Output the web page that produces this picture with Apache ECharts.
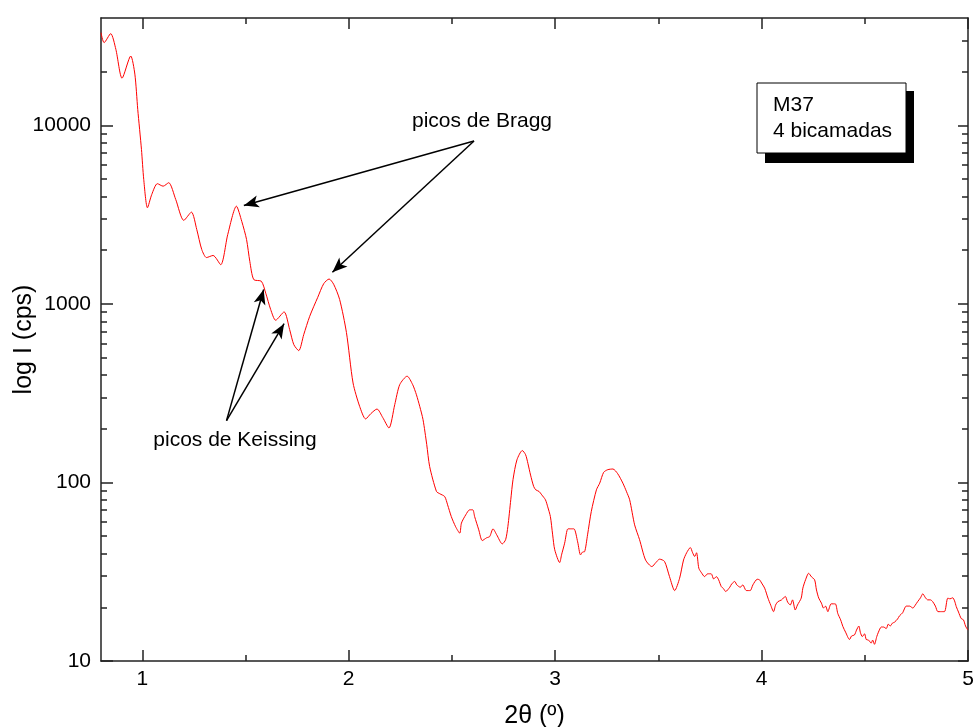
<!DOCTYPE html>
<html>
<head>
<meta charset="utf-8">
<script src="https://cdn.jsdelivr.net/npm/echarts@6/dist/echarts.min.js"></script>
<style>
html,body{margin:0;padding:0;background:#fff;}
#chart{width:977px;height:727px;}
</style>
</head>
<body>
<div id="chart"></div>
<script>
// 2θ (degrees)
var twoTheta = [
  0.800,0.815,0.847,0.872,0.902,0.944,0.964,0.978,0.996,1.007,
  1.025,1.046,1.073,1.101,1.128,1.162,1.201,1.238,1.264,1.288,
  1.311,1.343,1.380,1.414,1.456,1.482,1.505,1.521,1.540,1.577,
  1.598,1.622,1.646,1.687,1.714,1.734,1.758,1.782,1.811,1.850,
  1.879,1.905,1.927,1.956,1.989,2.021,2.053,2.082,2.107,2.137,
  2.165,2.195,2.223,2.247,2.283,2.310,2.328,2.344,2.360,2.378,
  2.392,2.425,2.441,2.465,2.479,2.497,2.518,2.538,2.546,2.567,
  2.586,2.601,2.610,2.630,2.647,2.668,2.683,2.699,2.717,2.744,
  2.760,2.771,2.785,2.796,2.815,2.841,2.857,2.868,2.881,2.896,
  2.906,2.922,2.935,2.953,2.964,2.977,2.988,2.998,3.022,3.031,
  3.046,3.062,3.075,3.091,3.109,3.123,3.133,3.143,3.157,3.175,
  3.200,3.216,3.235,3.255,3.280,3.303,3.328,3.346,3.361,3.385,
  3.409,3.438,3.469,3.487,3.506,3.530,3.554,3.579,3.603,3.622,
  3.637,3.655,3.666,3.676,3.685,3.696,3.709,3.724,3.739,3.756,
  3.768,3.781,3.792,3.805,3.816,3.826,3.846,3.855,3.870,3.880,
  3.897,3.909,3.926,3.945,3.958,3.979,3.990,4.003,4.015,4.031,
  4.044,4.058,4.068,4.079,4.097,4.115,4.126,4.139,4.150,4.163,
  4.174,4.192,4.200,4.213,4.228,4.242,4.257,4.266,4.277,4.290,
  4.300,4.310,4.321,4.337,4.357,4.369,4.383,4.394,4.407,4.426,
  4.436,4.450,4.460,4.471,4.479,4.488,4.499,4.507,4.518,4.531,
  4.538,4.547,4.558,4.566,4.580,4.591,4.604,4.614,4.623,4.634,
  4.644,4.659,4.668,4.683,4.701,4.717,4.733,4.745,4.756,4.770,
  4.781,4.794,4.805,4.818,4.829,4.842,4.854,4.867,4.886,4.902,
  4.913,4.926,4.935,4.943,4.954,4.967,4.978,4.988,4.999
];
// intensity (cps)
var intensity = [
  33100,29100,32700,26700,18400,24500,19400,12300,7350,4990,
  3460,4110,4720,4570,4780,3850,2940,3270,2610,2020,
  1820,1870,1660,2450,3530,2900,2300,1730,1370,1340,
  1150,931,811,903,718,592,548,673,853,1090,
  1300,1380,1290,1060,692,361,267,227,243,258,
  231,202,273,353,394,353,310,267,225,163,
  123,89.1,86.5,83.4,75.0,64.4,56.5,52.0,59.2,65.9,
  70.3,70.3,64.4,54.3,47.3,49.0,49.8,55.0,50.9,45.3,
  47.8,56.6,80.0,104,134,151,143,128,110,95.0,
  91.0,89.1,85.3,80.0,73.1,64.4,50.9,42.0,35.6,39.3,
  45.7,55.0,55.0,55.0,46.5,39.3,40.8,41.0,50.9,68.7,
  91.0,99.2,114,118,119,112,99.2,88.7,80.0,57.9,
  47.8,36.8,33.8,35.5,37.2,36.1,29.7,24.8,29.1,36.8,
  40.4,43.2,40.4,38.5,40.4,33.1,31.2,29.7,30.8,30.8,
  28.8,29.7,28.5,26.1,25.4,24.5,25.9,27.0,27.9,26.7,
  25.9,26.7,24.8,24.8,26.7,28.7,28.5,27.0,25.6,22.5,
  20.6,18.9,20.6,21.5,22.0,23.0,21.4,20.6,22.0,19.3,
  20.6,22.5,25.6,28.5,31.0,29.6,28.5,25.0,22.5,21.1,
  19.8,20.3,18.9,20.9,20.9,18.5,17.0,15.6,14.5,13.2,
  13.8,14.0,14.9,15.7,14.4,13.7,14.2,13.2,13.1,12.6,
  13.1,12.4,13.7,14.5,15.5,15.5,15.2,16.1,15.7,16.3,
  16.5,17.2,17.9,18.6,20.3,20.3,19.8,20.6,21.5,22.6,
  23.8,22.6,22.0,22.0,21.5,20.3,18.9,18.9,18.9,22.5,
  22.3,22.6,21.7,20.2,18.8,17.3,17.0,15.7,14.9
];

// axis ticks
var xMajorTicks = [1, 2, 3, 4, 5];
var xMinorTicks = [1.5, 2.5, 3.5, 4.5];
var yMajorTicks = [10, 100, 1000, 10000];
var yMinorTicksLeft = [20,30,40,50,60,70,80,90,200,300,400,500,600,700,800,900,2000,3000,4000,5000,6000,7000,8000,9000,20000];
var yMinorTicksRight = yMinorTicksLeft.concat([30000]);

// annotation arrows: [from 2θ, from I, to 2θ, to I]
var braggArrows = [[2.607, 8180, 1.492, 3565], [2.607, 8180, 1.921, 1507]];
var keissingArrows = [[1.408, 222, 1.588, 1205], [1.408, 222, 1.687, 776]];

var FONT = "'Liberation Sans', Arial, Helvetica, sans-serif";
var AX = '#222';

var data = [];
for (var i = 0; i < Math.min(twoTheta.length, intensity.length); i++) data.push([twoTheta[i], intensity[i]]);

function arrowData(list) {
  return list.map(function (a) { return [{ coord: [a[0], a[1]] }, { coord: [a[2], a[3]] }]; });
}

function xAxisDef(pos, ticks, len, showLine, showLabels) {
  var o = {
    type: 'value', position: pos, min: 0.8, max: 5,
    axisLine: { show: showLine, onZero: false, lineStyle: { color: AX, width: 1.5 } },
    axisTick: { show: true, inside: true, length: len, customValues: ticks, lineStyle: { color: AX, width: 1.5 } },
    axisLabel: { show: showLabels, customValues: ticks, margin: 8, color: '#000', fontSize: 21, fontFamily: FONT },
    splitLine: { show: false }
  };
  return o;
}
function yAxisDef(pos, ticks, len, showLine, showLabels) {
  return {
    type: 'log', logBase: 10, position: pos, min: 10, max: 40000,
    axisLine: { show: showLine, onZero: false, lineStyle: { color: AX, width: 1.5 } },
    axisTick: { show: true, inside: true, length: len, customValues: ticks, lineStyle: { color: AX, width: 1.5 } },
    axisLabel: { show: showLabels, customValues: ticks, margin: 10, color: '#000', fontSize: 21, fontFamily: FONT,
      formatter: function (v) { return String(Math.round(v)); } },
    splitLine: { show: false },
    minorTick: { show: false }
  };
}

var xa0 = xAxisDef('bottom', xMajorTicks, 11, true, true);
xa0.name = '2\u03B8 (\u00BA)';
xa0.nameLocation = 'middle';
xa0.nameGap = 43;
xa0.nameMoveOverlap = false;
xa0.nameTextStyle = { color: '#000', fontSize: 25, fontFamily: FONT };

var ya0 = yAxisDef('left', yMajorTicks, 12, true, true);
ya0.name = 'log I (cps)';
ya0.nameLocation = 'middle';
ya0.nameGap = 64;
ya0.nameMoveOverlap = false;
ya0.nameTextStyle = { color: '#000', fontSize: 25, fontFamily: FONT };

var chart = echarts.init(document.getElementById('chart'), null, { renderer: 'canvas' });
chart.setOption({
  animation: false,
  backgroundColor: '#fff',
  grid: { left: 101, right: 9, top: 18, bottom: 66, outerBoundsMode: 'none', containLabel: false },
  xAxis: [
    xa0,
    xAxisDef('bottom', xMinorTicks, 6, false, false),
    xAxisDef('top', xMajorTicks, 11, true, false),
    xAxisDef('top', xMinorTicks, 6, false, false)
  ],
  yAxis: [
    ya0,
    yAxisDef('left', yMinorTicksLeft, 6, false, false),
    yAxisDef('right', yMajorTicks, 10, true, false),
    yAxisDef('right', yMinorTicksRight, 6, false, false)
  ],
  series: [{
    type: 'line',
    xAxisIndex: 0, yAxisIndex: 0,
    data: data,
    showSymbol: false,
    smooth: 0.25,
    lineStyle: { color: '#ff0000', width: 1 },
    itemStyle: { color: '#ff0000' },
    silent: true,
    markLine: {
      silent: true,
      symbol: ['none', 'arrow'],
      symbolSize: [9, 15],
      label: { show: false },
      lineStyle: { color: '#000', width: 1.5, type: 'solid' },
      emphasis: { disabled: true },
      data: arrowData(braggArrows).concat(arrowData(keissingArrows))
    }
  }],
  graphic: [
    { type: 'text', x: 482, y: 121, silent: true,
      style: { text: 'picos de Bragg', fill: '#000', font: '21px ' + FONT, align: 'center', verticalAlign: 'middle' } },
    { type: 'text', x: 235, y: 440, silent: true,
      style: { text: 'picos de Keissing', fill: '#000', font: '21px ' + FONT, align: 'center', verticalAlign: 'middle' } },
    { type: 'rect', shape: { x: 765, y: 91, width: 149, height: 72 }, silent: true, style: { fill: '#000' } },
    { type: 'rect', shape: { x: 757, y: 83, width: 149, height: 70 }, silent: true, style: { fill: '#fff', stroke: '#000', lineWidth: 1 } },
    { type: 'text', x: 773, y: 105, silent: true,
      style: { text: 'M37', fill: '#000', font: '21px ' + FONT, align: 'left', verticalAlign: 'middle' } },
    { type: 'text', x: 773, y: 131, silent: true,
      style: { text: '4 bicamadas', fill: '#000', font: '21px ' + FONT, align: 'left', verticalAlign: 'middle' } }
  ]
});
</script>
</body>
</html>
